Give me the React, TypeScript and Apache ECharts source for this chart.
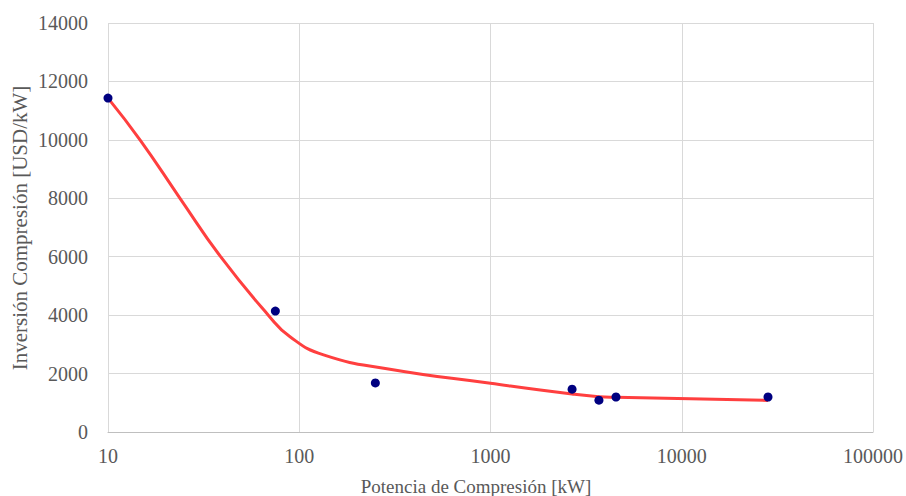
import React, { useEffect, useRef } from "react";
import * as echarts from "echarts";

const powerKW = [10, 75, 250, 2670, 3690, 4530, 28250];
const investmentUSDperKW = [11430, 4140, 1680, 1465, 1090, 1198, 1198];
const fitPowerKW = [10, 14.7, 23.8, 38.8, 68.9, 89.5, 134, 298, 1000, 2670, 3690, 4530, 28250];
const fitInvestment = [11430, 10000, 8000, 6000, 4000, 3260, 2640, 2150, 1667, 1300, 1210, 1190, 1080];
const yTicks = [0, 2000, 4000, 6000, 8000, 10000, 12000, 14000];
const xTitle = "Potencia de Compresión [kW]";
const yTitle = "Inversión Compresión [USD/kW]";

const FONT = "'Liberation Serif', 'DejaVu Serif', serif";
const TXT = "#595959";

export default function App() {
  const ref = useRef<HTMLDivElement>(null);
  useEffect(() => {
    if (!ref.current) return;
    const chart = echarts.init(ref.current, null, { renderer: "svg" });
    chart.setOption({
      animation: false,
      backgroundColor: "#ffffff",
      grid: { left: 108, top: 23, right: 33, bottom: 64, containLabel: false },
      xAxis: {
        type: "log",
        logBase: 10,
        min: 10,
        max: 100000,
        axisLine: { show: true, lineStyle: { color: "#bfbfbf", width: 1 } },
        axisTick: { show: false },
        axisLabel: {
          color: TXT,
          fontFamily: FONT,
          fontSize: 20,
          margin: 14,
          formatter: (v: number) => String(Math.round(v)),
        },
        splitLine: { show: true, lineStyle: { color: "#d9d9d9", width: 1 } },
        minorTick: { show: false },
        minorSplitLine: { show: false },
      },
      yAxis: {
        type: "value",
        min: yTicks[0],
        max: yTicks[yTicks.length - 1],
        interval: 2000,
        axisLine: { show: false },
        axisTick: { show: false },
        axisLabel: {
          color: TXT,
          fontFamily: FONT,
          fontSize: 20,
          margin: 20,
          formatter: (v: number) => String(v),
        },
        splitLine: { show: true, lineStyle: { color: "#d9d9d9", width: 1 } },
      },
      series: [
        {
          type: "line",
          data: fitPowerKW.map((x, i) => [x, fitInvestment[i]]),
          smooth: 0.5,
          showSymbol: false,
          lineStyle: { color: "#ff3f3f", width: 3 },
          z: 2,
        },
        {
          type: "scatter",
          data: powerKW.map((x, i) => [x, investmentUSDperKW[i]]),
          symbol: "circle",
          symbolSize: 9,
          itemStyle: { color: "#000080", opacity: 1 },
          z: 3,
        },
      ],
      graphic: [
        {
          type: "text",
          x: 476,
          y: 486,
          style: {
            text: xTitle,
            fill: TXT,
            font: `19px ${FONT}`,
            textAlign: "center",
            textVerticalAlign: "middle",
          },
        },
        {
          type: "text",
          x: 20,
          y: 228,
          rotation: Math.PI / 2,
          style: {
            text: yTitle,
            fill: TXT,
            font: `21px ${FONT}`,
            textAlign: "center",
            textVerticalAlign: "middle",
          },
        },
      ],
    });
    return () => chart.dispose();
  }, []);
  return (
    <div
      ref={ref}
      style={{ position: "fixed", left: 0, top: 0, width: 906, height: 496 }}
    />
  );
}
